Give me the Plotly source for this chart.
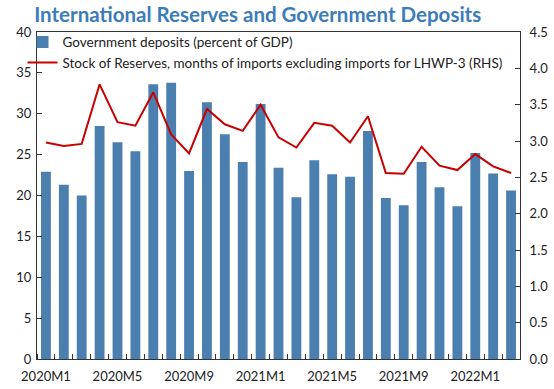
import plotly.graph_objects as go

months = [f"{y}M{m}" for y, m in
          [(2020, i) for i in range(1, 13)] + [(2021, i) for i in range(1, 13)] + [(2022, i) for i in range(1, 4)]]

deposits = [22.9, 21.3, 20.0, 28.5, 26.5, 25.4, 33.6, 33.8, 23.0, 31.4, 27.5, 24.1, 31.2,
            23.4, 19.8, 24.3, 22.6, 22.3, 27.9, 19.7, 18.8, 24.1, 21.0, 18.7, 25.2, 22.7, 20.6]

reserves = [2.98, 2.93, 2.96, 3.78, 3.26, 3.21, 3.67, 3.09, 2.83, 3.44, 3.23, 3.14, 3.50,
            3.05, 2.91, 3.25, 3.21, 2.98, 3.34, 2.56, 2.55, 2.92, 2.66, 2.60, 2.82, 2.65, 2.56]

label_every = 4

FONT = "Lato"
x = list(range(len(months)))

fig = go.Figure()
fig.add_trace(go.Bar(x=x, y=deposits, name="Government deposits (percent of GDP)",
                     marker=dict(color="#4A7FB0", line=dict(width=0)), width=0.55))
fig.add_trace(go.Scatter(x=x, y=reserves, yaxis="y2", mode="lines",
                         name="Stock of Reserves, months of imports excluding imports for LHWP-3 (RHS)",
                         line=dict(color="#C80000", width=2)))

fig.update_layout(
    width=554, height=389,
    margin=dict(l=37, r=34, t=32, b=30, autoexpand=False),
    plot_bgcolor="white", paper_bgcolor="white",
    font=dict(family=FONT, size=13, color="#222222"),
    title=dict(text="<b>International Reserves and Government Deposits</b>",
               font=dict(family=FONT, size=20.5, color="#3C7CBA"),
               x=0.457, xanchor="center", y=1 - 15 / 389, yanchor="middle", xref="paper", yref="container"),
    showlegend=True,
    legend=dict(x=-0.03, y=1.016, xanchor="left", yanchor="top", bgcolor="rgba(0,0,0,0)",
                font=dict(family=FONT, size=13.5, color="#222222"), tracegroupgap=0,
                itemwidth=30, traceorder="normal"),
    xaxis=dict(range=[-0.5, len(months) - 0.5], automargin=False,
               tickvals=x[::label_every], ticktext=months[::label_every],
               ticks="", showline=True, linecolor="#333333", linewidth=1, mirror=True,
               showgrid=False, zeroline=False, ticklabelstandoff=5,
               minor=dict(tick0=-0.5, dtick=1, ticks="inside", ticklen=5, tickcolor="#333333", showgrid=False),
               tickfont=dict(size=13)),
    yaxis=dict(range=[0, 40], dtick=5, ticks="inside", ticklen=5, tickcolor="#333333", automargin=False,
               showline=True, linecolor="#333333", linewidth=1, showgrid=False, zeroline=False,
               ticklabelstandoff=2, tickfont=dict(size=13)),
    yaxis2=dict(range=[0, 4.5], dtick=0.5, tickformat=".1f", overlaying="y", side="right",
                ticks="inside", ticklen=5, tickcolor="#333333", automargin=False,
                showline=True, linecolor="#333333", linewidth=1, showgrid=False, zeroline=False,
                ticklabelstandoff=6, tickfont=dict(size=13)),
)

fig.write_html("out.html", config={"displayModeBar": False},
               post_script="document.body.style.margin='0';")
